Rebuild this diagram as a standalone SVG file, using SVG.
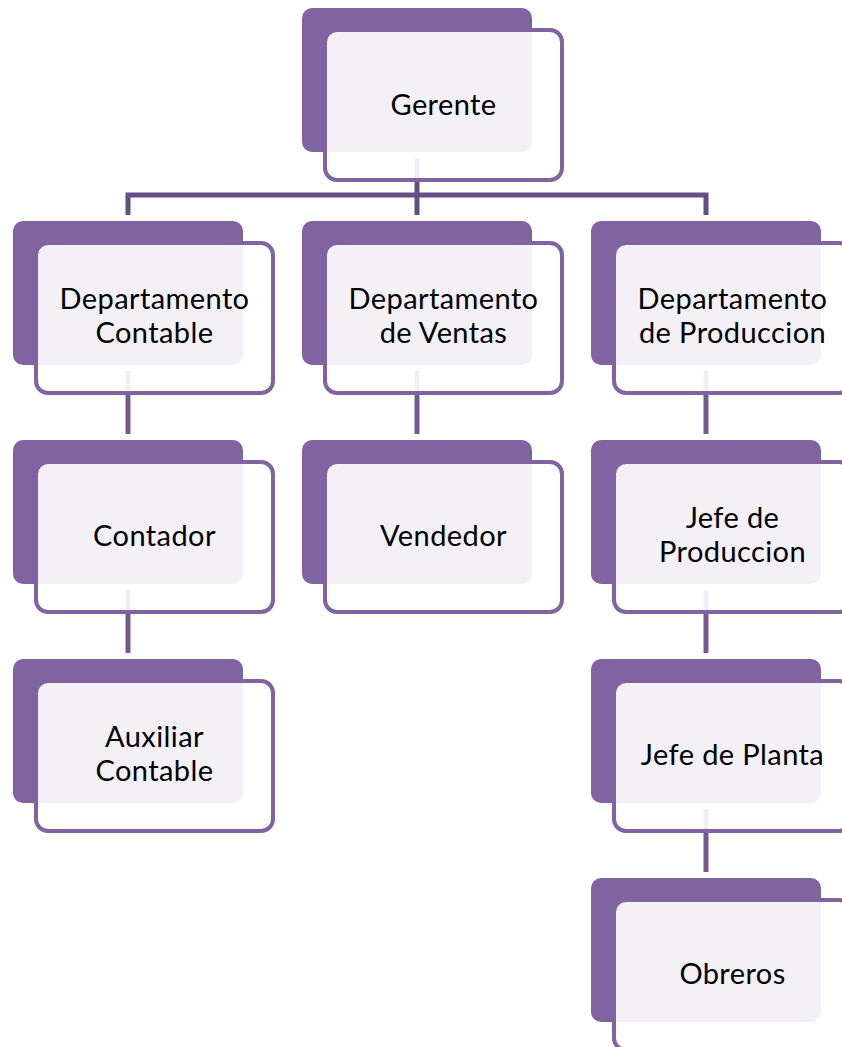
<svg xmlns="http://www.w3.org/2000/svg" width="842" height="1047" viewBox="0 0 842 1047">
  <defs>
    <style>
      .conn { fill: none; stroke: #745A93; stroke-width: 5; }
      .bar { fill: none; stroke: #654E84; stroke-width: 5; stroke-linejoin: miter; }
      .back { fill: #8064A2; }
      .front { fill: #FFFFFF; fill-opacity: 0.9; stroke: #8064A2; stroke-width: 4; }
      .lbl { font-family: Lato, "Open Sans", "Liberation Sans", sans-serif; font-size: 29px; letter-spacing: 0.4px; fill: #000000; text-anchor: middle; }
    </style>
  </defs>
  <rect width="842" height="1047" fill="#FFFFFF"/>
  <g id="connectors">
    <path class="bar" d="M128,215 V195 H706 V215"/>
    <path class="bar" d="M417,159 V215"/>
    <path class="conn" d="M128,371 V434"/>
    <path class="conn" d="M128,590 V653"/>
    <path class="conn" d="M417,371 V434"/>
    <path class="conn" d="M706,371 V434"/>
    <path class="conn" d="M706,590 V653"/>
    <path class="conn" d="M706,809 V872"/>
  </g>
  <g id="gerente">
    <rect class="back" x="302" y="8" width="230" height="144" rx="10"/>
    <rect class="front" x="325" y="30" width="237" height="150" rx="12"/>
    <text class="lbl" x="443.5" y="115">Gerente</text>
  </g>
  <g id="dep-contable">
    <rect class="back" x="13" y="221" width="230" height="144" rx="10"/>
    <rect class="front" x="36" y="243" width="237" height="150" rx="12"/>
    <text class="lbl" x="154.5" y="309">Departamento</text>
    <text class="lbl" x="154.5" y="343">Contable</text>
  </g>
  <g id="dep-ventas">
    <rect class="back" x="302" y="221" width="230" height="144" rx="10"/>
    <rect class="front" x="325" y="243" width="237" height="150" rx="12"/>
    <text class="lbl" x="443.5" y="309">Departamento</text>
    <text class="lbl" x="443.5" y="343">de Ventas</text>
  </g>
  <g id="dep-produccion">
    <rect class="back" x="591" y="221" width="230" height="144" rx="10"/>
    <rect class="front" x="614" y="243" width="237" height="150" rx="12"/>
    <text class="lbl" x="732.5" y="309">Departamento</text>
    <text class="lbl" x="732.5" y="343">de Produccion</text>
  </g>
  <g id="contador">
    <rect class="back" x="13" y="440" width="230" height="144" rx="10"/>
    <rect class="front" x="36" y="462" width="237" height="150" rx="12"/>
    <text class="lbl" x="154.5" y="546">Contador</text>
  </g>
  <g id="vendedor">
    <rect class="back" x="302" y="440" width="230" height="144" rx="10"/>
    <rect class="front" x="325" y="462" width="237" height="150" rx="12"/>
    <text class="lbl" x="443.5" y="546">Vendedor</text>
  </g>
  <g id="jefe-produccion">
    <rect class="back" x="591" y="440" width="230" height="144" rx="10"/>
    <rect class="front" x="614" y="462" width="237" height="150" rx="12"/>
    <text class="lbl" x="732.5" y="528">Jefe de</text>
    <text class="lbl" x="732.5" y="562">Produccion</text>
  </g>
  <g id="auxiliar-contable">
    <rect class="back" x="13" y="659" width="230" height="144" rx="10"/>
    <rect class="front" x="36" y="681" width="237" height="150" rx="12"/>
    <text class="lbl" x="154.5" y="747">Auxiliar</text>
    <text class="lbl" x="154.5" y="781">Contable</text>
  </g>
  <g id="jefe-planta">
    <rect class="back" x="591" y="659" width="230" height="144" rx="10"/>
    <rect class="front" x="614" y="681" width="237" height="150" rx="12"/>
    <text class="lbl" x="732.5" y="765">Jefe de Planta</text>
  </g>
  <g id="obreros">
    <rect class="back" x="591" y="878" width="230" height="144" rx="10"/>
    <rect class="front" x="614" y="900" width="237" height="150" rx="12"/>
    <text class="lbl" x="732.5" y="984">Obreros</text>
  </g>
</svg>
